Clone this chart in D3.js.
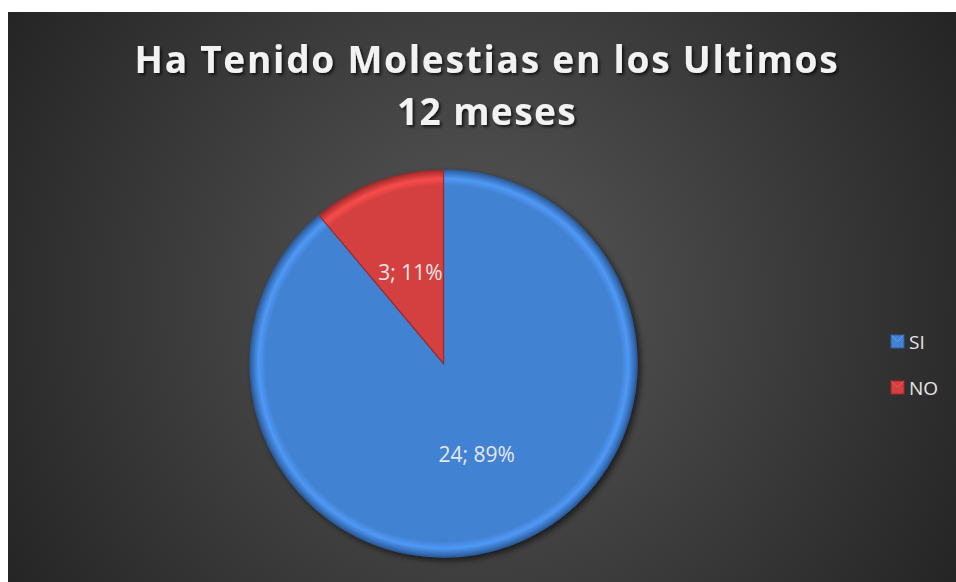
<!DOCTYPE html>
<html><head><meta charset="utf-8">
<script src="https://cdn.jsdelivr.net/npm/d3@7"></script>
<style>html,body{margin:0;padding:0;background:#fff;}svg{display:block;}</style>
</head><body>
<script>
const categories = ["SI", "NO"];
const values = [24, 3];
const percents = ["89%", "11%"];
const titleLines = ["Ha Tenido Molestias en los Ultimos", "12 meses"];
const colors = ["#4382d2", "#d4403f"];
const darkColors = ["#2c5d9e", "#9e2b2a"];

const W = 956, H = 582;
const svg = d3.select("body").append("svg").attr("width", W).attr("height", H);
const defs = svg.append("defs");

const bg = defs.append("radialGradient").attr("id", "bg").attr("gradientUnits", "userSpaceOnUse")
  .attr("cx", 480).attr("cy", 300).attr("r", 560);
bg.append("stop").attr("offset", "0%").attr("stop-color", "#585858");
bg.append("stop").attr("offset", "100%").attr("stop-color", "#242424");

const sh = defs.append("filter").attr("id", "tshadow").attr("x", "-10%").attr("y", "-30%").attr("width", "120%").attr("height", "160%");
sh.append("feDropShadow").attr("dx", 2).attr("dy", 2).attr("stdDeviation", 1.5).attr("flood-color", "#000").attr("flood-opacity", 0.7);

const pshadow = defs.append("filter").attr("id", "pshadow").attr("x", "-20%").attr("y", "-20%").attr("width", "140%").attr("height", "140%");
pshadow.append("feDropShadow").attr("dx", 3).attr("dy", 3).attr("stdDeviation", 3).attr("flood-color", "#000").attr("flood-opacity", 0.6);

// background
svg.append("rect").attr("x", 8).attr("y", 12).attr("width", W - 8).attr("height", H - 12).attr("fill", "url(#bg)");

// title
const title = svg.append("text").attr("text-anchor", "middle")
  .attr("font-family", "'Open Sans', sans-serif").attr("font-weight", "bold")
  .attr("font-size", 37).attr("fill", "#f2f2f2")
  .attr("filter", "url(#tshadow)");
const targetW = [705, 180];
titleLines.forEach((t, i) => {
  const ts = title.append("tspan").attr("x", 487).attr("y", 73 + i * 52).text(t);
  const w = ts.node().getComputedTextLength();
  const ls = (targetW[i] - w) / t.length;
  ts.attr("letter-spacing", ls.toFixed(2));
});

// pie
const cx = 443.5, cy = 363.5, R = 193.5;
const pie = d3.pie().sort(null).value(d => d.v);
const data = pie(categories.map((c, i) => ({ c, v: values[i], p: percents[i], i })));
const arc = d3.arc().innerRadius(0).outerRadius(R);
const g = svg.append("g").attr("transform", `translate(${cx},${cy})`);

colors.forEach((col, i) => {
  const rg = defs.append("radialGradient").attr("id", "sl" + i).attr("gradientUnits", "userSpaceOnUse")
    .attr("cx", 0).attr("cy", 0).attr("r", R);
  rg.append("stop").attr("offset", "0%").attr("stop-color", col);
  rg.append("stop").attr("offset", "92%").attr("stop-color", col);
  rg.append("stop").attr("offset", "95.5%").attr("stop-color", d3.color(col).brighter(0.45));
  rg.append("stop").attr("offset", "100%").attr("stop-color", darkColors[i]);
});

g.append("g").attr("filter", "url(#pshadow)").selectAll("path").data(data).join("path")
  .attr("d", arc).attr("fill", d => "url(#sl" + d.data.i + ")")
  .attr("stroke", d => darkColors[d.data.i]).attr("stroke-width", 1.2);

const lab = d3.arc().innerRadius(R * 0.5).outerRadius(R * 0.5);
g.selectAll("text.lbl").data(data).join("text").attr("class", "lbl")
  .attr("transform", d => `translate(${lab.centroid(d)})`)
  .attr("text-anchor", "middle").attr("dy", "0.35em")
  .attr("font-family", "'Open Sans', sans-serif").attr("font-size", 21)
  .attr("fill", "#e6e6e6")
  .text(d => d.data.v + "; " + d.data.p);

// legend
const leg = svg.append("g");
categories.forEach((c, i) => {
  const y = 342 + i * 46;
  leg.append("rect").attr("x", 891).attr("y", y - 7).attr("width", 13).attr("height", 13)
    .attr("fill", colors[i]).attr("stroke", darkColors[i]).attr("stroke-width", 1);
  leg.append("path").attr("d", `M891.5,${y - 6.5} L897.5,${y - 0.5} L903.5,${y - 6.5}`)
    .attr("fill", "none").attr("stroke", d3.color(colors[i]).brighter(0.6)).attr("stroke-width", 1);
  leg.append("text").attr("x", 909).attr("y", y).attr("dy", "0.36em")
    .attr("font-family", "'Open Sans', sans-serif").attr("font-size", 19)
    .attr("fill", "#e6e6e6").text(c);
});
</script>
</body></html>
